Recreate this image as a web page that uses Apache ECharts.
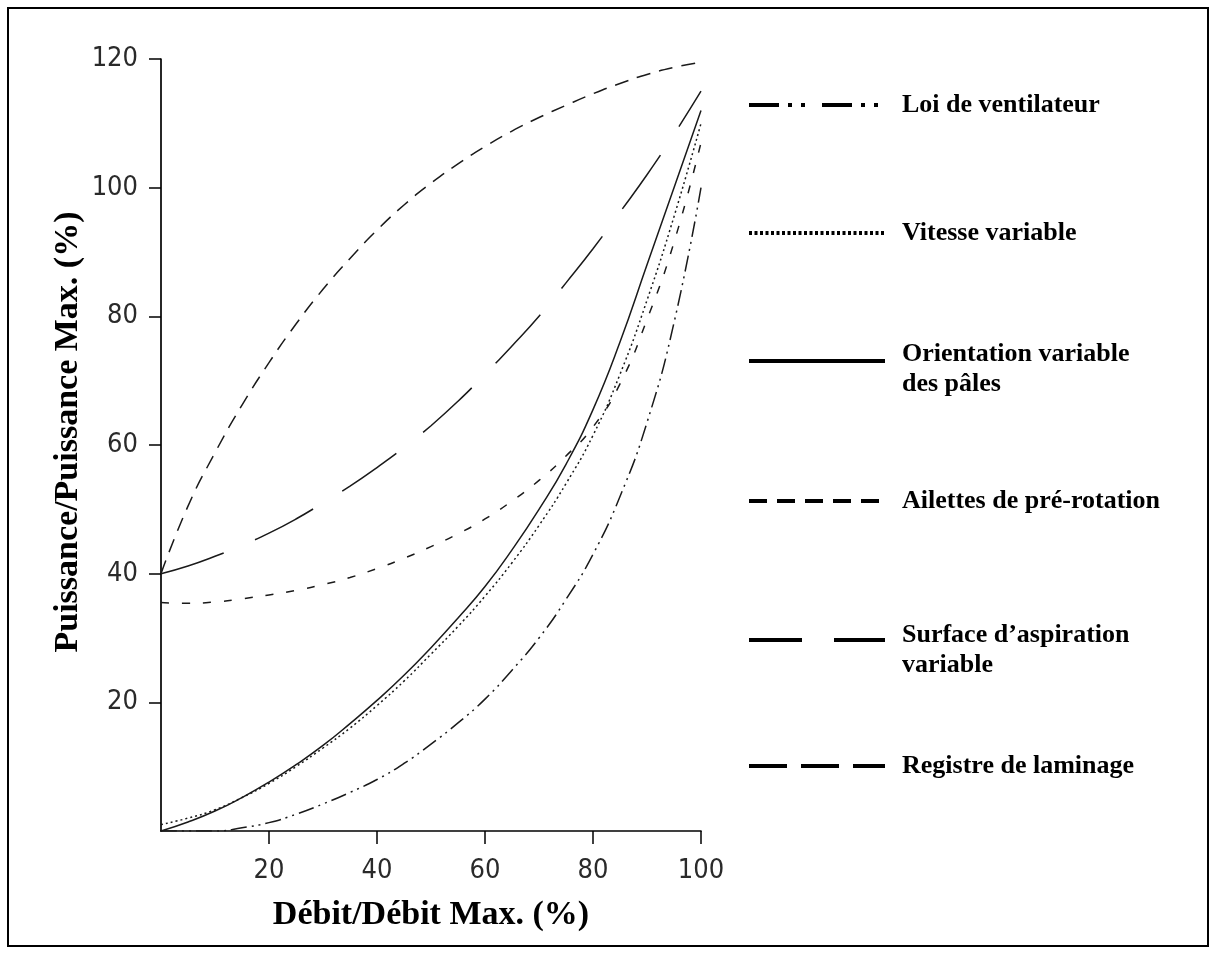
<!DOCTYPE html>
<html>
<head>
<meta charset="utf-8">
<script src="https://cdn.jsdelivr.net/npm/echarts@6/dist/echarts.min.js"></script>
<style>
html,body{margin:0;padding:0;background:#fff;}
#chart{width:1218px;height:960px;}
</style>
</head>
<body>
<div id="chart"></div>
<script>
// ---- data ----
const debit = [0,5,10,15,20,25,30,35,40,45,50,55,60,65,70,75,80,85,90,95,100];
const loiVentilateur   = [0,0,0,0.5,1.3,2.6,4.2,6,8,10.5,13.5,16.8,20.5,25,30,36,43,52,63.5,79,100];
const vitesseVariable  = [1,2,3.3,5.2,7.4,10,12.9,16,19.5,23.3,27.5,31.8,36.5,41.7,47.5,54,61.5,71,82.5,95.5,110];
const orientationPales = [0,1.4,3.1,5.2,7.6,10.3,13.3,16.7,20.3,24.2,28.5,33.1,38,43.7,50,57,65.5,76,88,100,112];
const ailettesRotation = [35.5,35.4,35.6,36.1,36.7,37.4,38.3,39.4,40.8,42.4,44.2,46.2,48.5,51.3,54.5,58.3,62.8,69.5,79.5,91.5,107];
const surfaceAspiration= [40,41.2,42.7,44.4,46.3,48.5,51,53.6,56.5,59.6,63,66.8,71,75.4,80,85.2,90.5,96.2,102,108.3,115];
const registreLaminage = [40,50.5,58.8,66.2,72.8,78.8,84.2,89,93.4,97.3,100.7,103.7,106.4,108.8,110.9,112.8,114.6,116.2,117.6,118.7,119.5];

const xTickValues = [20,40,60,80,100];
const yTickValues = [20,40,60,80,100,120];

const seriesNames = [
  'Loi de ventilateur',
  'Vitesse variable',
  'Orientation variable des pâles',
  'Ailettes de pré-rotation',
  'Surface d\u2019aspiration variable',
  'Registre de laminage'
];
const legendLines = [
  ['Loi de ventilateur'],
  ['Vitesse variable'],
  ['Orientation variable', 'des pâles'],
  ['Ailettes de pré-rotation'],
  ['Surface d\u2019aspiration', 'variable'],
  ['Registre de laminage']
];
const xTitle = 'Débit/Débit Max. (%)';
const yTitle = 'Puissance/Puissance Max. (%)';

// ---- styles ----
const seriesData = [loiVentilateur, vitesseVariable, orientationPales, ailettesRotation, surfaceAspiration, registreLaminage];
const plotDash = [[16,5,2,5,2,5],[2,3],'solid',[8,13],[66,34],[14,9]];
const legendDash = [[30,9,4,9,4,17],[3,2.5],'solid',[18,10],[53,32],[38,14]];
const legendIconY = [105,233,361,501,640,766];
const legendSpacer = [0,0,16,0,20,0];

const chart = echarts.init(document.getElementById('chart'));

const series = seriesData.map((vals, i) => ({
  name: seriesNames[i],
  type: 'line',
  data: debit.map((x, j) => [x, vals[j]]),
  smooth: 0.5,
  symbol: 'none',
  silent: true,
  lineStyle: { color: '#1a1a1a', width: 1.5, type: plotDash[i], cap: 'butt' },
  z: 3
}));

const legends = seriesNames.map((name, i) => {
  const lines = legendLines[i];
  const sp = legendSpacer[i];
  const text = lines.length > 1 ? '{s| }\n' + lines.join('\n') : lines[0];
  const top = lines.length > 1 ? legendIconY[i] - (sp + 30 * lines.length) / 2 : legendIconY[i] - 15;
  return {
    data: [{ name: name }],
    orient: 'vertical',
    left: 747,
    top: top,
    padding: 0,
    itemWidth: 136,
    itemHeight: 14,
    selectedMode: false,
    formatter: () => text,
    lineStyle: { color: '#000', width: 4, type: legendDash[i], cap: 'butt', opacity: 1 },
    itemStyle: { color: 'rgba(0,0,0,0)', borderWidth: 0, opacity: 0 },
    textStyle: {
      fontFamily: '"Liberation Serif", "Times New Roman", serif',
      fontWeight: 'bold',
      fontSize: 26,
      color: '#000',
      lineHeight: 30,
      padding: [0, 0, 0, 12],
      rich: { s: { fontSize: 2, lineHeight: sp || 1, height: sp || 1 } }
    }
  };
});

const tickFont = { fontFamily: '"Liberation Sans Narrow", "Arial Narrow", "DejaVu Sans Condensed", sans-serif', fontSize: 27, color: '#2a2a2a' };
const titleFont = '"Liberation Serif", "Times New Roman", serif';

chart.setOption({
  animation: false,
  backgroundColor: '#ffffff',
  grid: { left: 161, right: 517, top: 59, bottom: 129, containLabel: false },
  xAxis: {
    type: 'value', min: 0, max: 100, interval: 20,
    name: xTitle, nameLocation: 'middle', nameGap: 67,
    nameTextStyle: { fontFamily: titleFont, fontWeight: 'bold', fontSize: 34, color: '#000' },
    axisLine: { show: true, onZero: false, lineStyle: { color: '#000', width: 1.7 } },
    axisTick: { show: true, length: 13, customValues: xTickValues, lineStyle: { color: '#000', width: 1.5 } },
    axisLabel: Object.assign({ margin: 26, customValues: xTickValues }, tickFont),
    splitLine: { show: false }
  },
  yAxis: {
    type: 'value', min: 0, max: 120, interval: 20,
    axisLine: { show: true, onZero: false, lineStyle: { color: '#000', width: 1.7 } },
    axisTick: { show: true, length: 12, customValues: yTickValues, lineStyle: { color: '#000', width: 1.5 } },
    axisLabel: Object.assign({ margin: 23, customValues: yTickValues }, tickFont),
    splitLine: { show: false }
  },
  legend: legends,
  graphic: [
    {
      type: 'rect', silent: true,
      shape: { x: 8, y: 8, width: 1200, height: 938 },
      style: { fill: 'none', stroke: '#000', lineWidth: 2 }
    },
    {
      type: 'text', silent: true,
      x: 68, y: 432, rotation: Math.PI / 2,
      style: {
        text: yTitle, fill: '#000', align: 'center', verticalAlign: 'middle',
        font: 'bold 34px "Liberation Serif", "Times New Roman", serif'
      }
    }
  ],
  series: series
});
</script>
</body>
</html>
